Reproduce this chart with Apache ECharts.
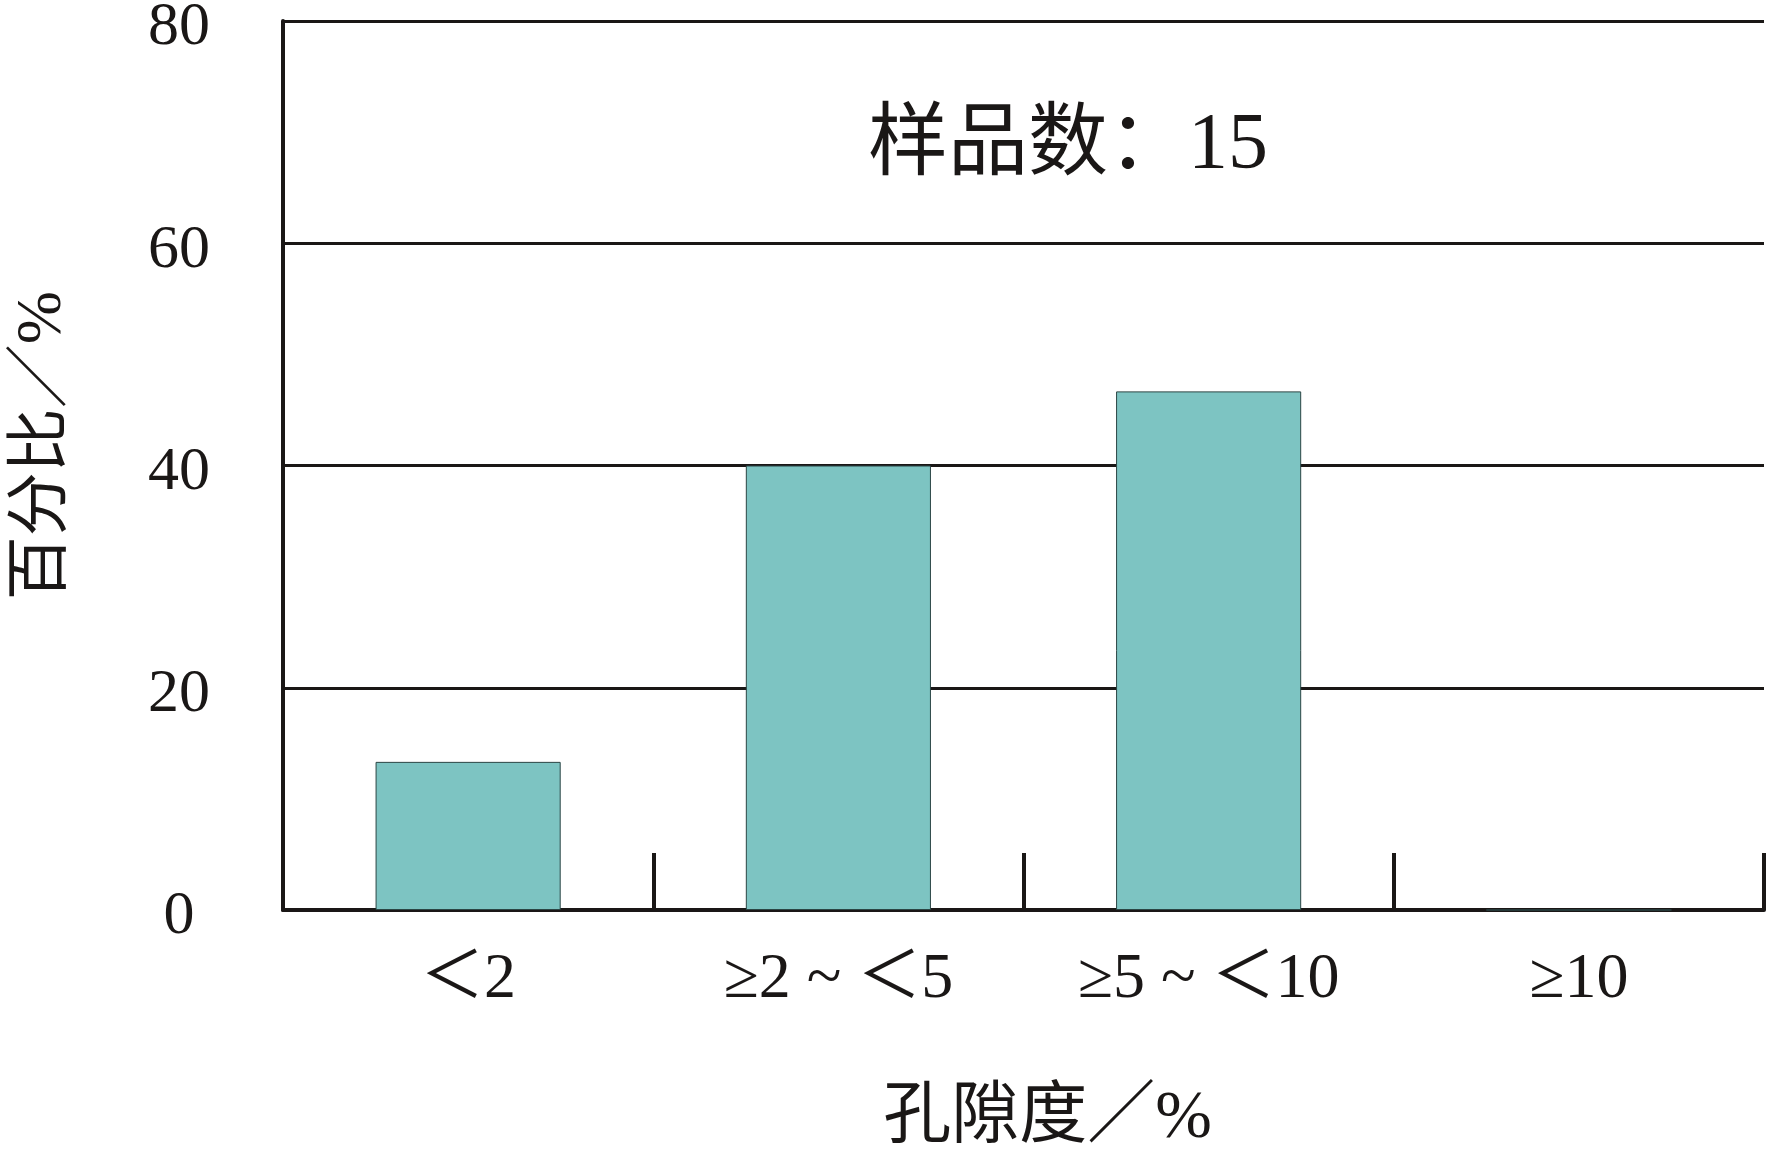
<!DOCTYPE html>
<html>
<head>
<meta charset="utf-8">
<script src="https://cdn.jsdelivr.net/npm/echarts@6/dist/echarts.min.js"></script>
<style>
html,body{margin:0;padding:0;background:#fff;}
#chart{width:1767px;height:1151px;}
</style>
</head>
<body>
<div id="chart"></div>
<script>
const categories = ['＜2', '≥2 ~ ＜5', '≥5 ~ ＜10', '≥10'];
const percentValues = [13.33, 40, 46.67, 0];
const yTicks = { min: 0, max: 80, interval: 20 };
const sampleNote = '样品数：15';
const xName = '孔隙度／%';
const yName = '百分比／%';

const FONT = "'Liberation Serif', 'Noto Sans CJK SC', serif";
const INK = '#1a1716';

const chart = echarts.init(document.getElementById('chart'), null, { renderer: 'canvas' });
chart.setOption({
  backgroundColor: '#ffffff',
  animation: false,
  grid: { left: 283, right: 3, top: 21, bottom: 241, containLabel: false, outerBoundsMode: 'none' },
  xAxis: {
    type: 'category',
    data: categories,
    boundaryGap: true,
    name: xName,
    nameLocation: 'middle',
    nameGap: 175,
    nameTextStyle: { fontFamily: FONT, fontSize: 68, color: INK, padding: [0, 0, 0, 48] },
    axisLine: { show: true, lineStyle: { color: INK, width: 4 } },
    axisTick: { show: true, inside: true, length: 57, alignWithLabel: false, lineStyle: { color: INK, width: 4 } },
    axisLabel: { fontFamily: FONT, fontSize: 64, color: INK, margin: 38, interval: 0 },
    splitLine: { show: false }
  },
  yAxis: {
    type: 'value',
    min: yTicks.min,
    max: yTicks.max,
    interval: yTicks.interval,
    name: yName,
    nameLocation: 'middle',
    nameGap: 208,
    nameTextStyle: { fontFamily: FONT, fontSize: 64, color: INK, padding: [0, 0, 0, 40] },
    axisLine: { show: true, lineStyle: { color: INK, width: 4 } },
    axisTick: { show: false },
    axisLabel: {
      margin: 104, align: 'center',
      formatter: '{a|{value}}',
      rich: { a: { fontFamily: FONT, fontSize: 62, color: INK, padding: [14, 0, 0, 0] } }
    },
    splitLine: { show: true, lineStyle: { color: INK, width: 3 } }
  },
  graphic: [{
    type: 'text',
    left: 868,
    top: 107,
    style: { text: sampleNote, font: "80px 'Liberation Serif', 'Noto Sans CJK SC', serif", fill: INK }
  }],
  series: [{
    type: 'bar',
    data: percentValues,
    barWidth: '50%',
    itemStyle: { color: '#7dc4c2', borderColor: '#2b4544', borderWidth: 1 }
  }]
});
</script>
</body>
</html>
